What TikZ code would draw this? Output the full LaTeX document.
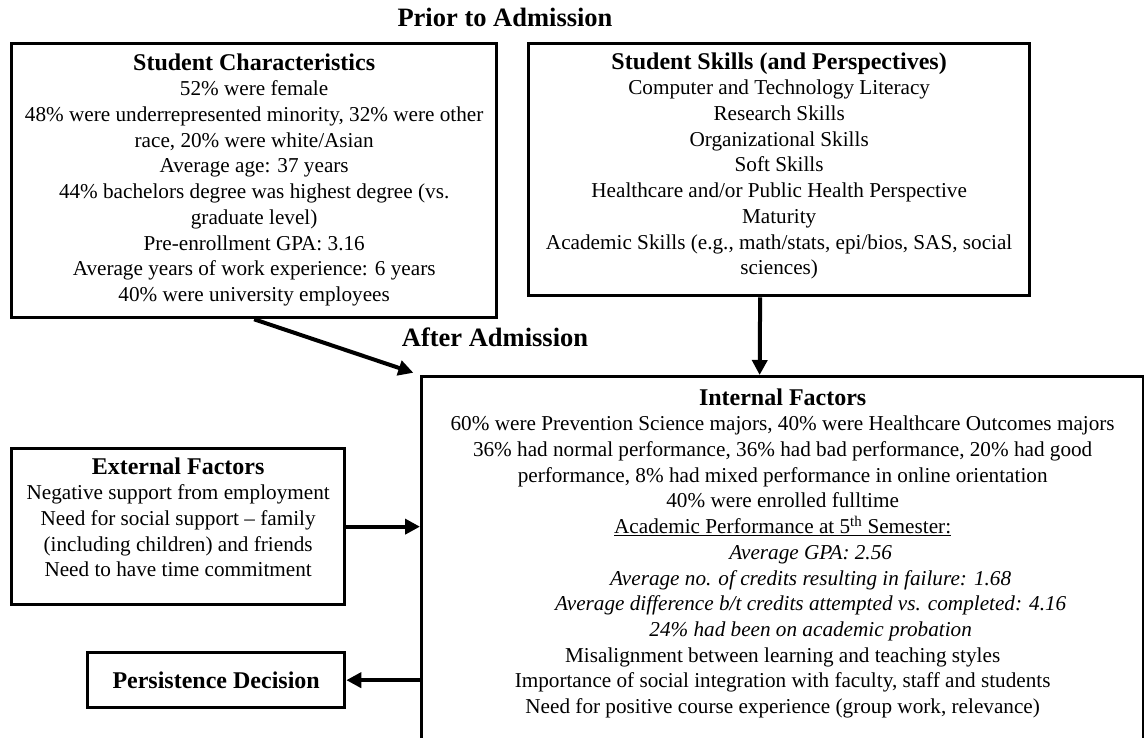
\documentclass[tikz,border=0pt]{standalone}
\usepackage{fontspec}
\setmainfont{Liberation Serif}
\usetikzlibrary{arrows.meta}
\newcommand\boxtitle[1]{{\bfseries\fontsize{24}{25.7}\selectfont #1}}
\begin{document}
\begin{tikzpicture}[x=1pt,y=-1pt,
  box/.style={draw,line width=3.3pt,inner sep=0pt,anchor=north west},
  body/.style={anchor=north,inner sep=0pt,align=center,font=\fontsize{21.2}{25.7}\selectfont},
  heading/.style={anchor=base,inner sep=0pt,font=\bfseries\fontsize{26.5}{30}\selectfont},
  arr/.style={line width=4pt,-{Triangle[length=15pt,width=15pt]}}]
\useasboundingbox (0,0) rectangle (1144,738);
\clip (0,0) rectangle (1144,738);

% phase headings
\node[heading] (prior) at (505,27) {Prior to Admission};
\node[heading] (after) at (495,346) {After Admission};

% frames
\node[box,minimum width=485pt,minimum height=274pt] (char) at (10,42) {};
\node[box,minimum width=501pt,minimum height=252pt] (skills) at (527,42) {};
\node[box,minimum width=722pt,minimum height=385pt] (internal) at (420,375) {};
\node[box,minimum width=333pt,minimum height=156pt] (ext) at (10,447) {};
\node[box,minimum width=257pt,minimum height=55pt] (pers) at (86,651) {};

% frame contents
\node[body] (chartext) at ([yshift=-10pt]char.north) {\strut\boxtitle{Student Characteristics}\\
  52\% were female\\
  48\% were underrepresented minority, 32\% were other\\
  race, 20\% were white/Asian\\
  Average age: 37 years\\
  44\% bachelors degree was highest degree (vs.\\
  graduate level)\\
  Pre-enrollment GPA: 3.16\\
  Average years of work experience: 6 years\\
  40\% were university employees};

\node[body] (skillstext) at ([yshift=-9pt]skills.north) {\strut\boxtitle{Student Skills (and Perspectives)}\\
  Computer and Technology Literacy\\
  Research Skills\\
  Organizational Skills\\
  Soft Skills\\
  Healthcare and/or Public Health Perspective\\
  Maturity\\
  Academic Skills (e.g., math/stats, epi/bios, SAS, social\\
  sciences)};

\node[body] (internaltext) at ([yshift=-12pt]internal.north) {\strut\boxtitle{Internal Factors}\\
  60\% were Prevention Science majors, 40\% were Healthcare Outcomes majors\\
  36\% had normal performance, 36\% had bad performance, 20\% had good\\
  performance, 8\% had mixed performance in online orientation\\
  40\% were enrolled fulltime\\
  \underline{Academic Performance at 5\textsuperscript{th} Semester:}\\
  \hspace*{56pt}{\itshape Average GPA: 2.56}\\
  \hspace*{56pt}{\itshape Average no. of credits resulting in failure: 1.68}\\
  \hspace*{56pt}{\itshape Average difference b/t credits attempted vs. completed: 4.16}\\
  \hspace*{56pt}{\itshape 24\% had been on academic probation}\\
  Misalignment between learning and teaching styles\\
  Importance of social integration with faculty, staff and students\\
  Need for positive course experience (group work, relevance)};

\node[body] (exttext) at ([yshift=-9pt]ext.north) {\strut\boxtitle{External Factors}\\
  Negative support from employment\\
  Need for social support -- family\\
  (including children) and friends\\
  Need to have time commitment};

\node[inner sep=0pt,font=\bfseries\fontsize{24}{25.7}\selectfont] (perstext) at (pers.center) {Persistence Decision};

% connectors
\draw[arr,shorten >=7pt] (char.south) -- (internal.north west);
\draw[arr] ([xshift=-19pt]skills.south) -- ([xshift=-23pt]internal.north);
\draw[arr] (ext.east) -- (ext.east -| internal.west);
\draw[arr] (pers.east -| internal.west) -- (pers.east);
\end{tikzpicture}
\end{document}
